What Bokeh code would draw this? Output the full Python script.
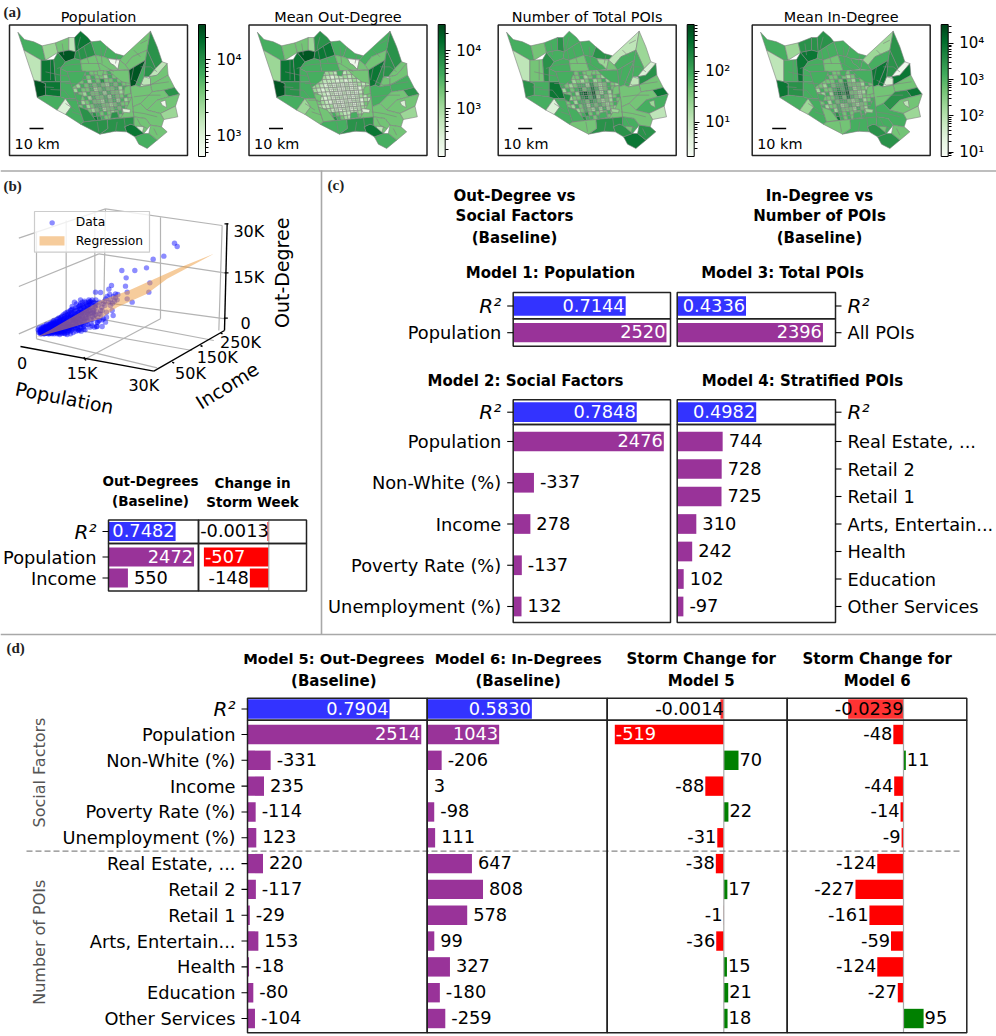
from bokeh.plotting import figure
from bokeh.models import Range1d, ColorBar, LogColorMapper, FixedTicker, ColumnDataSource
from bokeh.core.properties import value
from bokeh.palettes import Greens256
from bokeh.embed import file_html
from bokeh.resources import INLINE

# ---------------- data ----------------
SOCIAL = ["Population", "Non-White (%)", "Income", "Poverty Rate (%)", "Unemployment (%)"]
POIS = ["Real Estate, ...", "Retail 2", "Retail 1", "Arts, Entertain...", "Health", "Education", "Other Services"]

R2_B, VALS_B = 0.7482, [2472, 550]
R2_B_CHG, VALS_B_CHG = -0.0013, [-507, -148]
R2_M1, VALS_M1 = 0.7144, [2520]
R2_M2, VALS_M2 = 0.7848, [2476, -337, 278, -137, 132]
R2_M3, VALS_M3 = 0.4336, [2396]
R2_M4, VALS_M4 = 0.4982, [744, 728, 725, 310, 242, 102, -97]
R2_M5, VALS_M5 = 0.7904, [2514, -331, 235, -114, 123, 220, -117, -29, 153, -18, -80, -104]
R2_M6, VALS_M6 = 0.5830, [1043, -206, 3, -98, 111, 647, 808, 578, 99, 327, -180, -259]
R2_S5, VALS_S5 = -0.0014, [-519, 70, -88, 22, -31, -38, 17, -1, -36, 15, 21, 18]
R2_S6, VALS_S6 = -0.0239, [-48, 11, -44, -14, -9, -124, -227, -161, -59, -124, -27, 95]

# map tracts: outline vertices in map units, shade levels 0-8 for the four maps
TRACTS = [
 ([(52,96),(72,118),(100,125),(125,137),(135,180),(122,180),(70,150)], [5,5,5,5]),
 ([(70,150),(122,180),(122,245),(100,240)], [2,3,2,2]),
 ([(125,137),(165,128),(172,157),(135,180)], [3,4,4,3]),
 ([(122,180),(135,180),(160,178),(165,245),(122,245)], [7,7,4,5]),
 ([(160,178),(172,157),(195,185),(180,205),(180,245),(165,245)], [6,7,6,7]),
 ([(100,240),(122,245),(135,250),(135,285),(110,292)], [8,8,6,7]),
 ([(135,250),(122,245),(165,245),(180,245),(180,290),(135,285)], [7,6,5,6]),
 ([(165,128),(205,112),(205,150),(172,157)], [4,4,5,6]),
 ([(205,112),(222,112),(225,155),(205,150)], [2,3,6,6]),
 ([(222,112),(240,93),(262,112),(272,125),(255,135),(225,155)], [7,6,5,6]),
 ([(172,157),(205,150),(225,155),(222,175),(195,185)], [8,8,5,7]),
 ([(225,155),(255,135),(272,125),(285,165),(240,180),(222,175)], [6,7,5,5]),
 ([(272,125),(300,122),(320,140),(310,170),(285,165)], [5,5,5,5]),
 ([(320,140),(345,160),(370,167),(360,178),(322,175),(310,170)], [5,5,6,5]),
 ([(322,175),(358,180),(352,208),(340,195),(330,190)], [0,0,3,5]),
 ([(370,167),(450,93),(440,150),(395,170),(375,195),(358,180),(360,178)], [4,5,2,3]),
 ([(450,93),(470,140),(485,185),(465,205),(440,150)], [6,6,3,6]),
 ([(395,170),(440,150),(435,180),(385,210),(375,195)], [4,4,5,5]),
 ([(435,180),(405,255),(390,260),(385,210)], [8,7,5,7]),
 ([(440,150),(465,205),(445,230),(430,230),(435,180)], [6,6,5,6]),
 ([(465,205),(485,185),(500,190),(470,225),(445,230)], [2,4,1,0]),
 ([(430,230),(450,235),(450,255),(418,260)], [2,4,2,1]),
 ([(435,180),(430,230),(418,260),(405,255)], [5,6,5,7]),
 ([(445,230),(470,225),(500,190),(503,225),(450,255),(450,235)], [4,4,6,7]),
 ([(450,255),(503,225),(522,262),(490,270),(455,275)], [4,5,4,4]),
 ([(490,270),(522,262),(537,282),(505,290)], [6,6,7,7]),
 ([(405,255),(418,260),(450,255),(455,275),(420,310),(397,320),(390,260)], [4,5,4,4]),
 ([(420,310),(455,275),(490,270),(505,290),(470,300),(440,330)], [4,4,4,6]),
 ([(440,330),(470,300),(505,290),(537,282),(525,318),(480,340)], [4,4,5,4]),
 ([(480,305),(495,300),(498,322),(485,315)], [0,1,3,2]),
 ([(480,340),(525,318),(532,350),(490,358)], [3,3,2,3]),
 ([(397,320),(420,310),(440,330),(480,340),(490,358),(483,380),(450,375),(435,355),(400,350)], [4,4,4,5]),
 ([(400,350),(435,355),(450,375),(430,400),(400,375)], [4,4,5,5]),
 ([(408,378),(430,380),(425,400),(412,393)], [1,2,4,4]),
 ([(450,375),(483,380),(500,395),(470,420),(445,400)], [4,4,6,4]),
 ([(430,400),(445,400),(470,420),(440,445),(415,432),(403,410)], [5,5,7,6]),
 ([(378,395),(403,410),(430,400),(400,375),(390,372),(372,380)], [7,7,6,6]),
 ([(298,402),(345,393),(378,395),(372,380),(390,372),(400,375),(400,350),(320,358),(322,385)], [6,6,6,5]),
 ([(250,365),(320,358),(322,385),(298,402),(240,372)], [6,5,4,4]),
 ([(110,292),(135,285),(180,290),(195,295),(170,330)], [5,5,5,5]),
 ([(180,245),(210,245),(227,295),(195,295),(180,290)], [5,5,7,5]),
 ([(180,205),(200,215),(210,245),(180,245)], [5,5,5,5]),
 ([(170,330),(195,295),(212,320),(195,343)], [1,3,1,3]),
 ([(195,295),(227,295),(238,330),(250,365),(240,372),(195,343),(212,320)], [5,4,5,5]),
 ([(180,205),(195,185),(222,175),(240,180),(245,214),(200,215)], [5,5,5,5]),
 ([(240,180),(285,165),(300,212),(245,214)], [4,5,4,4]),
 ([(285,165),(310,170),(322,175),(330,190),(340,195),(352,208),(300,212)], [4,4,5,5]),
 ([(352,208),(358,180),(375,195),(385,210)], [4,4,4,5]),
 # medium tracts at the rim of the city
 ([(200,215),(255,213),(245,240),(215,262),(208,240)], [5,5,5,5]),
 ([(325,211),(385,210),(388,250),(365,245),(345,230)], [4,4,5,5]),
 ([(394,290),(398,335),(400,350),(360,354),(375,330)], [4,4,4,5]),
 ([(235,320),(262,330),(285,360),(250,365)], [6,4,5,4]),
 ([(290,212),(310,211),(305,228),(292,226)], [4,5,4,5]),
 ([(222,280),(245,285),(240,305),(228,300)], [5,4,6,5]),
 ([(388,255),(391,280),(370,285),(372,262)], [4,4,4,4]),
 ([(330,355),(355,352),(350,335),(333,338)], [6,5,5,5]),
 ([(365,325),(390,328),(388,338),(368,336)], [1,1,3,3]),
]
# further tract borders inside the large tracts
BORDERS = [
 [(170,205),(200,195),(250,190),(300,190),(340,215)], [(135,215),(180,225),(205,228)], [(210,295),(190,270),(150,268)],
 [(400,240),(430,255),(470,250),(505,245)], [(400,290),(440,285),(480,285)], [(395,335),(430,340),(470,350)],
 [(300,140),(305,190)], [(250,140),(265,190)], [(240,110),(232,140),(240,180)], [(420,200),(450,200),(470,215)],
 [(410,355),(420,375),(440,385)], [(460,385),(470,405)], [(345,395),(350,365)], [(290,365),(295,395)],
 [(130,260),(160,262)], [(150,180),(150,240)], [(185,130),(190,165)], [(420,130),(440,120)], [(400,150),(420,170)],
 [(225,330),(195,310)], [(245,345),(215,335)], [(350,165),(345,190)], [(400,200),(392,240)], [(370,350),(375,385)],
 [(225,250),(195,250)], [(235,300),(205,300)],
]
# inner city: corners of the dense block and its shade levels per map
CITY_CORNERS = [(200,215),(385,210),(400,350),(250,365)]
CITY_POP = ["54545445453544","45354544354534","54453546445453","43545454354544","35445345445354","54354453544345",
            "44535445354454","53454435453534","45345544345445","54434534454543","45565454345454","54476544354545"]
CITY_OUT = ["43323323232343","34232122323234","42322212123243","33212121212323","32121211212132","42212112121233",
            "32121221212324","43212112122132","32231212212243","43322122122334","34454322223234","43465432234343"]
CITY_POI = ["45454545445454","54344534543454","43534345345345","54345536434543","35456457534543","44537868435354",
            "53446757354345","45355465434354","43545354543454","54345435353435","45456454345354","54465545434545"]
CITY_IN  = ["54545445454543","45354454345354","53444546435453","44354557444354","35445657534435","43536768443354",
            "54445647543444","45354554345345","53445345434454","44535444354354","55565454445345","54475454545454"]

MAP_TITLES = ["Population", "Mean Out-Degree", "Number of Total POIs", "Mean In-Degree"]
MAP_LOW = [530, 151, 2.1, 7.6]
MAP_HIGH = [29300, 28500, 835, 33400]
MAP_TICKS = [[1000, 10000], [1000, 10000], [10, 100], [10, 100, 1000, 10000]]
MAP_TICK_LABELS = [["10³", "10⁴"], ["10³", "10⁴"], ["10¹", "10²"], ["10¹", "10²", "10³", "10⁴"]]
MAP_CITY = [CITY_POP, CITY_OUT, CITY_POI, CITY_IN]

# 3-D scatter, as projected on the page (picture units)
SCAT_X = [113,118,122,126,130,134,128,137,140,144,147,150,152,155,158,160,163,165,168,170,172,175,177,180,182,184,186,188,190,192,194,196,198,200,202,204,206,208,210,212,214,216,218,220,222,224,226,228,230,232,234,236,238,240,242,244,246,248,250,252,254,256,258,260,262,264,266,268,270,272,274,276,278,280,282,284,286,290,292,296,300,304,308,312,316,320,325,330,338,345,352,
          116,120,125,132,136,142,146,149,153,157,161,166,169,173,176,179,183,187,191,195,199,203,207,211,215,219,223,227,231,235,239,243,247,251,255,259,263,267,
          522,530,458,490,438,364,403,377,375,333,325,285,300,380,345,448,445,380,395,222,240,335,338,318,292,315,288,305,
          115,119,123,127,131,135,139,143,145,148,151,154,156,159,162,164,167,171,174,178,181,185,189,193,197,200,205,209,213,217,221,225,229,233,237,241,245,249,253,257,261,265,269,273,277,281,285,289,293,297,301,305,309,313,
          232,238,244,250,262,268,275,282,290,296,305,318,330,336,342,328,350,200,212,225,238,245,252,258,265,240,228,215,205,192,182,176,168,160,152,146,138,130,124,158,164,172,178,186,194,200,210,218,226,234,242,250,
          120,120,125,125,130,130,130,135,135,135,140,140,140,140,145,145,145,150,150,150,150,155,155,155,155,160,160,160,160,165,165,165,170,170,170,170,175,175,175,175,180,180,180,180,185,185,185,185,
          190,190,190,190,190,195,195,195,195,195,200,200,200,200,200,205,205,205,205,205,210,210,210,210,210,215,215,215,215,215,220,220,220,220,225,225,225,225,230,230,230,230,235,235,235,235,240,240,240,240,
          245,245,245,245,250,250,250,255,255,255,260,260,260,265,265,265,270,270,270,275,275,275,280,280,280,285,285]
SCAT_Y = [478,484,476,488,480,472,470,486,478,468,490,482,474,464,486,476,468,458,482,490,472,462,452,484,476,466,456,446,478,488,470,460,450,440,482,472,462,452,442,432,478,468,458,448,438,428,474,464,454,444,434,424,414,470,460,450,440,430,420,410,478,462,452,442,432,422,412,402,392,458,448,438,428,418,408,398,388,455,440,430,420,410,400,392,385,378,395,388,378,382,372,
          472,490,482,490,466,484,474,462,488,470,484,474,464,484,476,458,488,470,462,480,472,462,474,460,450,440,466,456,470,446,436,426,462,452,434,420,405,396,
          218,228,266,257,292,300,300,322,347,345,356,365,366,365,370,337,365,385,395,395,400,420,435,440,455,455,468,448,
          486,478,490,474,484,478,470,490,462,478,468,484,458,480,490,462,472,456,478,468,450,480,452,474,444,466,480,436,468,444,430,452,440,426,458,420,444,408,426,440,412,430,418,396,420,434,412,424,405,395,432,420,445,405,
          478,478,472,468,462,470,466,470,468,450,468,425,405,398,392,372,388,425,418,412,405,395,392,400,388,388,400,408,432,438,440,446,452,454,460,466,462,468,470,466,478,482,492,488,490,492,490,486,482,480,482,476,
          482,486,478,486,474,482,490,470,482,488,466,474,482,488,470,480,486,458,466,476,486,456,470,478,490,450,460,472,482,452,466,486,446,460,476,486,442,456,470,488,444,462,472,480,436,450,460,484,
          432,446,458,470,484,428,442,454,466,478,434,448,456,470,486,424,440,456,468,476,420,436,450,466,482,416,430,446,462,474,424,442,454,470,420,436,448,460,412,430,450,466,408,426,440,456,416,432,446,462,
          404,424,436,456,412,428,446,396,416,444,404,426,450,394,420,436,410,430,446,388,404,426,396,424,444,404,432]
PLANE_X = [108,150,300,385,540,640,500,440,350,300,200]
PLANE_Y = [500,478,390,360,290,250,325,370,410,445,475]
GRID_X = [[55,315],[55,295],[55,280],[315,665],[295,672],[280,675],[108,108],[197,197],[283,283],[315,310],[480,480],[665,655],[108,470],[197,575],[283,640],[250,480]]
GRID_Y = [[203,115],[348,250],[490,392],[115,165],[250,307],[392,445],[182,505],[150,473],[122,442],[115,400],[140,445],[165,480],[505,592],[473,540],[442,510],[568,445]]
AXIS_X = [[60,460],[460,672],[680,672],[672,684],[672,684],[670,682],[250,256],[515,521],[600,606],[660,666]]
AXIS_Y = [[528,602],[602,480],[158,480],[160,160],[307,307],[443,443],[560,570],[575,578],[525,528],[487,490]]

# ---------------- page ----------------
W, H = 996, 1036
FONT = value("DejaVu Sans")
p = figure(width=W, height=H, x_range=Range1d(0, W), y_range=Range1d(H, 0), x_axis_type=None, y_axis_type=None,
           toolbar_location=None, output_backend="svg", min_border=0, outline_line_color=None)
p.grid.visible = False


def xr(name, px0, val0, ppu):
    p.extra_x_ranges[name] = Range1d(val0 - px0 / ppu, val0 + (W - px0) / ppu)


def yr(name, px0, val0, ppu):
    p.extra_y_ranges[name] = Range1d(val0 + (H - px0) / ppu, val0 - px0 / ppu)


def T(x, y, s, size=17.8, color="black", align="center", bold=False, angle=0, font=FONT, italic=False,
      xoff=0, yoff=0, xn="default", yn="default"):
    style = "bold" if bold else ("italic" if italic else "normal")
    p.text(x=[x], y=[y], text=[s], text_font=font, text_font_size=f"{size}px", text_color=color, text_align=align,
           text_baseline="middle", text_font_style=style, angle=angle, x_offset=xoff, y_offset=yoff,
           x_range_name=xn, y_range_name=yn)


PURPLE, BLUE = "#993399", "#3333ff"


def frame(l, r, t, b):
    p.quad(left=l, right=r, top=t, bottom=b, fill_alpha=0, line_color="#222222", line_width=1.5)


def coef_column(name, x0, ppu, r2ppu, r2, vals, r2row, row, rowh, step, signed=False):
    xr(name, x0, 0, ppu)
    xr(name + "r", x0, 0, r2ppu)
    a = dict(x_range_name=name, y_range_name=row)
    ar = dict(x_range_name=name + "r", y_range_name=r2row)
    rows = list(range(len(vals)))
    if not signed:
        p.hbar(y=[0], left=0, right=abs(r2), height=rowh, fill_color=BLUE, line_color=None, **ar)
        T(abs(r2), 0, f"{r2:.4f}", color="white", align="right", xoff=-1, yoff=-1, xn=name + "r", yn=r2row)
        p.hbar(y=rows, left=0, right=[abs(v) for v in vals], height=rowh / step, fill_color=PURPLE, line_color=None, **a)
        for i, v in enumerate(vals):
            if abs(v) > 1000:
                T(abs(v), i, str(v), color="white", align="right", xoff=-1, yoff=-1, xn=name, yn=row)
            else:
                T(abs(v), i, str(v), align="left", xoff=6, yoff=-1, xn=name, yn=row)
    else:
        p.hbar(y=[0], left=r2, right=0, height=rowh, fill_color="#ff3333", line_color=None, **ar)
        T(0, 0, f"{r2:.4f}", align="right", yoff=-1, xn=name + "r", yn=r2row)
        p.hbar(y=rows, left=[min(v, 0) for v in vals], right=[max(v, 0) for v in vals], height=rowh / step,
               fill_color=["red" if v < 0 else "green" for v in vals], line_color=None, **a)
        for i, v in enumerate(vals):
            if v < -400:
                T(v, i, str(v), color="white", align="left", xoff=1, yoff=-1, xn=name, yn=row)
            elif v < 0:
                T(v, i, str(v), align="right", xoff=-1, yoff=-1, xn=name, yn=row)
            else:
                T(v, i, str(v), align="left", xoff=1, yoff=-1, xn=name, yn=row)


def row_labels(labels, x_tick, row, side="left"):
    rows = list(range(len(labels)))
    d = -6 if side == "left" else 6
    p.segment(x0=[x_tick] * len(rows), x1=[x_tick + d] * len(rows), y0=rows, y1=rows, line_color="black", line_width=1.1, y_range_name=row)
    for i, s in enumerate(labels):
        isr = s == "R²"
        T(x_tick + 2 * d, i, s, align="right" if side == "left" else "left", yn=row, italic=isr, size=20 if isr else 17.8)


# separators
p.segment(x0=[0, 321, 0], x1=[W, 321, W], y0=[170.5, 170, 634], y1=[170.5, 634, 634], line_color="#a8a8a8", line_width=1.6)
SERIF = value("Liberation Serif")
for s, x, y in [("(a)", 3, 11), ("(b)", 3, 185), ("(c)", 327, 184), ("(d)", 6, 647)]:
    T(x, y, s, size=15, bold=True, align="left", font=SERIF, color="#222222")

# ---------- (a) maps ----------
MAP_LEFT = [9, 248.5, 497.7, 751.7]
CBAR_LEFT = [198, 437.7, 686.7, 940.7]
palette = list(reversed(Greens256))
for m in range(4):
    nm = f"map{m}"
    xr(nm, MAP_LEFT[m], 27, 1 / 3)
    yr(nm, 24, 73, 1 / 3)
    low, high = MAP_LOW[m], MAP_HIGH[m]
    mapper = LogColorMapper(palette=palette, low=low, high=high)
    to_val = lambda lev: low * (high / low) ** ((lev + 0.5) / 9)
    xs, ys, vs = [], [], []
    (a, b, c, d) = CITY_CORNERS
    grid = MAP_CITY[m]
    nr, nc = len(grid), len(grid[0])

    def pt(u, v):
        return (a[0] * (1 - u) * (1 - v) + b[0] * u * (1 - v) + c[0] * u * v + d[0] * (1 - u) * v,
                a[1] * (1 - u) * (1 - v) + b[1] * u * (1 - v) + c[1] * u * v + d[1] * (1 - u) * v)
    for r in range(nr):
        for q in range(nc):
            cs = [pt(q / nc, r / nr), pt((q + 1) / nc, r / nr), pt((q + 1) / nc, (r + 1) / nr), pt(q / nc, (r + 1) / nr)]
            xs.append([z[0] for z in cs])
            ys.append([z[1] for z in cs])
            vs.append(to_val(int(grid[r][q])))
    for poly, lev in TRACTS:
        xs.append([z[0] for z in poly])
        ys.append([z[1] for z in poly])
        vs.append(to_val(lev[m]))
    src = ColumnDataSource(dict(xs=xs, ys=ys, v=vs))
    p.patches(xs="xs", ys="ys", fill_color={"field": "v", "transform": mapper}, line_color="#808080", line_width=0.6,
              source=src, x_range_name=nm, y_range_name=nm)
    # finer tract borders, denser towards the middle of the city
    lx, ly = [[q[0] for q in z] for z in BORDERS], [[q[1] for q in z] for z in BORDERS]
    p.multi_line(xs=lx, ys=ly, line_color="#808080", line_width=0.6, x_range_name=nm, y_range_name=nm)
    cx, cy = [], []
    for q in range(nc):
        u = (q + .5) / nc
        if .25 < u < .8:
            seg = [pt(u, .22), pt(u, .8)]
            cx.append([z[0] for z in seg]); cy.append([z[1] for z in seg])
    for r in range(nr):
        v_ = (r + .5) / nr
        if .22 < v_ < .8:
            seg = [pt(.25, v_), pt(.8, v_)]
            cx.append([z[0] for z in seg]); cy.append([z[1] for z in seg])
    p.multi_line(xs=cx, ys=cy, line_color="#8c8c8c", line_width=0.45, x_range_name=nm, y_range_name=nm)

    frame(MAP_LEFT[m], MAP_LEFT[m] + 178, 24.5, 155)
    T(MAP_LEFT[m] + 89, 16, MAP_TITLES[m], size=14.4)
    p.segment(x0=[MAP_LEFT[m] + 20], x1=[MAP_LEFT[m] + 34], y0=[128], y1=[128], line_color="black", line_width=1.5)
    T(MAP_LEFT[m] + 5, 143, "10 km", size=14.4, align="left")

    ticks = MAP_TICKS[m]
    minor = [k * 10 ** e for e in range(0, 5) for k in range(2, 10) if low <= k * 10 ** e <= high]
    cb = ColorBar(color_mapper=mapper, ticker=FixedTicker(ticks=ticks, minor_ticks=minor),
                  major_label_overrides=dict(zip(ticks, MAP_TICK_LABELS[m])),
                  location=(CBAR_LEFT[m], H - 156), width=7, height=132, padding=0, margin=0,
                  bar_line_color="black", major_tick_line_color="black", minor_tick_line_color="black",
                  major_tick_in=0, major_tick_out=5, minor_tick_in=0, minor_tick_out=3, label_standoff=6,
                  major_label_text_font_size="15px", major_label_text_font="DejaVu Sans",
                  major_label_text_color="black", background_fill_alpha=0, border_line_color=None)
    p.add_layout(cb, "center")

# ---------- (b) 3-D ----------
xr("b", 0, 0, 1 / 3)
yr("b", 170, 0, 1 / 3)
b3 = dict(x_range_name="b", y_range_name="b")
p.multi_line(xs=GRID_X, ys=GRID_Y, line_color="#b4b4b4", line_width=1.2, **b3)
p.scatter(SCAT_X, SCAT_Y, size=5.4, fill_color="blue", fill_alpha=0.45, line_color=None, **b3)
p.patch(PLANE_X, PLANE_Y, fill_color="#ee9a3a", fill_alpha=0.5, line_color=None, **b3)
p.multi_line(xs=AXIS_X, ys=AXIS_Y, line_color="black", line_width=1.4, **b3)
p.quad(left=[102], right=[447], top=[123], bottom=[245], fill_color="white", fill_alpha=0.8, line_color="#cccccc", line_width=1.2, **b3)
p.scatter([155], [157], size=5.4, fill_color="blue", fill_alpha=0.45, line_color=None, **b3)
p.quad(left=[117], right=[192], top=[197], bottom=[225], fill_color="#ee9a3a", fill_alpha=0.5, line_color=None, **b3)
T(226, 155, "Data", size=12.3, align="left", xn="b", yn="b")
T(226, 210, "Regression", size=12.3, align="left", xn="b", yn="b")
for s, x, y in [("0", 65, 577), ("15K", 245, 610), ("30K", 430, 645), ("50K", 570, 610), ("150K", 650, 562),
                ("250K", 720, 515), ("30K", 745, 183), ("15K", 745, 320), ("0", 735, 458)]:
    T(x, y, s, size=16, xn="b", yn="b")
T(192, 682, "Population", size=19, angle=-0.19, xn="b", yn="b")
T(680, 645, "Income", size=19, angle=0.56, xn="b", yn="b")
T(845, 307, "Out-Degree", size=19, angle=1.5708, xn="b", yn="b")

# (b) table
yr("b_r2", 531, 0, 1)
yr("b_rows", 556.5, 0, 21)
T(150, 480, "Out-Degrees", size=13.5, bold=True); T(150, 500, "(Baseline)", size=13.5, bold=True)
T(252, 482, "Change in", size=13.5, bold=True); T(252, 501, "Storm Week", size=13.5, bold=True)
coef_column("b1", 108.5, 0.0344, 89, R2_B, VALS_B, "b_r2", "b_rows", 19, 21)
coef_column("b2", 268.3, 0.128, 1150, R2_B_CHG, VALS_B_CHG, "b_r2", "b_rows", 19, 21, signed=True)
p.segment(x0=[268.3], x1=[268.3], y0=[520], y1=[590], line_color="#aaaaaa", line_width=1.2)
frame(108, 198, 519.5, 543); frame(108, 198, 543, 590.5); frame(198, 306, 519.5, 543); frame(198, 306, 543, 590.5)
row_labels(["R²"], 108, "b_r2"); row_labels(["Population", "Income"], 108, "b_rows")

# ---------- (c) ----------
for s, y in [("Out-Degree vs", 195), ("Social Factors", 215), ("(Baseline)", 237)]:
    T(514, y, s, size=15, bold=True)
for s, y in [("In-Degree vs", 195), ("Number of POIs", 215), ("(Baseline)", 237)]:
    T(819, y, s, size=15, bold=True)
T(550, 272.7, "Model 1: Population", size=15, bold=True)
T(782, 272.7, "Model 3: Total POIs", size=15, bold=True)
T(525, 380, "Model 2: Social Factors", size=15, bold=True)
T(802, 380, "Model 4: Stratified POIs", size=15, bold=True)
yr("c_a_r2", 305.5, 0, 1); yr("c_a", 332.2, 0, 1)
yr("c_b_r2", 411.7, 0, 1); yr("c_l", 441, 0, 41.25); yr("c_r", 441, 0, 27.5)
coef_column("m1", 513, 0.0607, 157, R2_M1, VALS_M1, "c_a_r2", "c_a", 19.3, 1)
coef_column("m3", 677, 0.0607, 158, R2_M3, VALS_M3, "c_a_r2", "c_a", 19.3, 1)
coef_column("m2", 513, 0.0607, 157, R2_M2, VALS_M2, "c_b_r2", "c_l", 19.7, 41.25)
coef_column("m4", 677, 0.0607, 158, R2_M4, VALS_M4, "c_b_r2", "c_r", 19.7, 27.5)
for l, r in [(512.7, 670), (676.7, 835)]:
    frame(l, r, 292, 318.3); frame(l, r, 318.3, 345.7); frame(l, r, 399.3, 424); frame(l, r, 424, 622)
row_labels(["R²"], 512.7, "c_a_r2"); row_labels(["Population"], 512.7, "c_a")
row_labels(["R²"], 512.7, "c_b_r2"); row_labels(SOCIAL, 512.7, "c_l")
row_labels(["R²"], 835, "c_a_r2", "right"); row_labels(["All POIs"], 835, "c_a", "right")
row_labels(["R²"], 835, "c_b_r2", "right"); row_labels(POIS, 835, "c_r", "right")

# ---------- (d) ----------
T(333.3, 658, "Model 5: Out-Degrees", size=14.7, bold=True); T(333.3, 680, "(Baseline)", size=15, bold=True)
T(517.7, 658, "Model 6: In-Degrees", size=14.7, bold=True); T(517.7, 680, "(Baseline)", size=15, bold=True)
T(700.7, 658, "Storm Change for", size=15, bold=True); T(700.7, 680, "Model 5", size=15, bold=True)
T(876.7, 658, "Storm Change for", size=15, bold=True); T(876.7, 680, "Model 6", size=15, bold=True)
yr("d_r2", 708.5, 0, 1); yr("d", 734, 0, 25.82)
coef_column("m5", 247.3, 0.069, 179.3, R2_M5, VALS_M5, "d_r2", "d", 19.4, 25.82)
coef_column("m6", 427, 0.0687, 179, R2_M6, VALS_M6, "d_r2", "d", 19.4, 25.82)
coef_column("s5", 723.3, 0.21, 2400, R2_S5, VALS_S5, "d_r2", "d", 19.4, 25.82, signed=True)
coef_column("s6", 903, 0.2115, 2315, R2_S6, VALS_S6, "d_r2", "d", 19.4, 25.82, signed=True)
p.segment(x0=[723.3, 903], x1=[723.3, 903], y0=[698, 698], y1=[1032, 1032], line_color="#aaaaaa", line_width=1.2)
p.line([26, 961], [850.7, 850.7], line_color="#888888", line_width=1.3, line_dash="6 3")
for l, r in [(247, 426.7), (426.7, 606.7), (606.7, 786.7), (786.7, 966.3)]:
    frame(l, r, 697.7, 719.7); frame(l, r, 719.7, 1032.3)
row_labels(["R²"], 247, "d_r2"); row_labels(SOCIAL + POIS, 247, "d")
T(39.3, 772, "Social Factors", size=16, color="#555555", angle=1.5708)
T(39.3, 941.7, "Number of POIs", size=16, color="#555555", angle=1.5708)

open("out.html", "w").write(file_html(p, INLINE))
